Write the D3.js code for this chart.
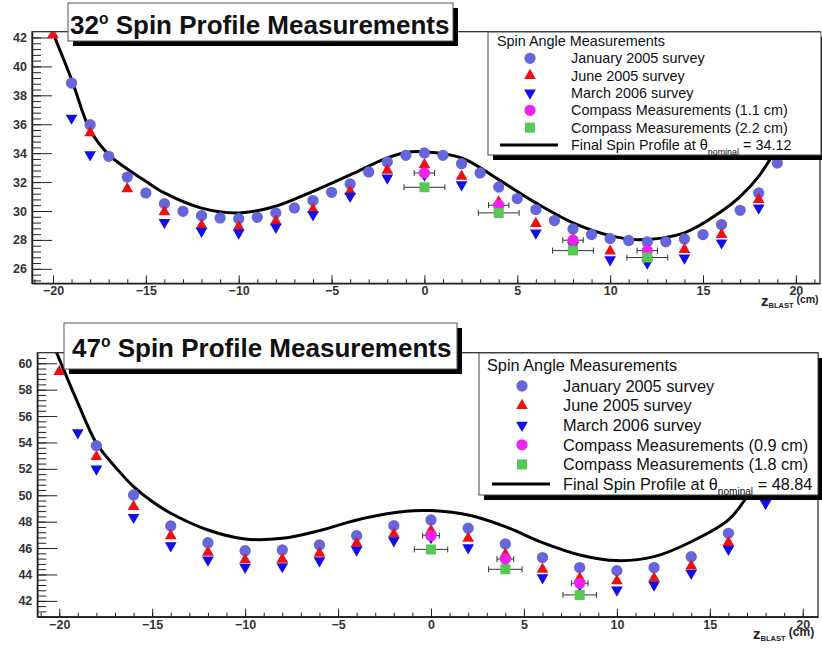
<!DOCTYPE html>
<html>
<head>
<meta charset="utf-8">
<script src="https://cdn.jsdelivr.net/npm/d3@7"></script>
<style>
body { margin: 0; background: #fff; }
svg { display: block; font-family: "Liberation Sans", Arial, Helvetica, sans-serif; }
</style>
</head>
<body>
<div id="chart"></div>
<script>
// ---- data: 32 degree panel ----
const jan32 = [[-19,38.85],[-18,35.97],[-17,33.78],[-16,32.35],[-15,31.25],[-14,30.51],[-13,29.98],[-12,29.68],[-11,29.52],[-10,29.47],[-9,29.56],[-8,29.87],[-7,30.21],[-6,30.72],[-5,31.29],[-4,31.87],[-3,32.7],[-2,33.39],[-1,33.85],[0,34.01],[1,33.85],[2,33.27],[3,32.63],[4,31.66],[5,30.86],[6,30.1],[7,29.34],[8,28.76],[9,28.37],[10,28.09],[11,27.96],[12,27.87],[13,27.87],[14,28.07],[15,28.37],[16,29.06],[17,30.05],[18,31.25],[19,33.32]];
const jun32 = [[-20,42.19],[-18,35.4],[-16,31.53],[-14,29.94],[-12,28.99],[-10,28.9],[-8,29.29],[-6,30.1],[-4,31.36],[-2,32.81],[0,33.2],[2,32.4],[4,30.62],[6,29.13],[8,28.02],[10,27.22],[12,27.0],[14,27.33],[16,28.37],[18,30.79]];
const mar32 = [[-19,36.43],[-18,33.9],[-14,29.22],[-12,28.6],[-10,28.49],[-8,28.88],[-6,29.75],[-4,31.02],[-2,32.29],[0,32.5],[2,31.82],[4,30.3],[6,28.49],[8,27.6],[10,26.64],[12,26.41],[14,26.76],[16,27.8],[18,30.21]];
const compA32 = [[0,32.63],[4,30.4],[8,27.98],[12,27.26]];
const compB32 = [[0,31.64],[4,29.87],[8,27.26],[12,26.78]];
const compErr32 = [0.55, 1.1];
const profile32 = [[-20.05,42.45],[-19,39.1],[-18,35.6],[-17,33.9],[-16,32.9],[-15,32.05],[-14,31.25],[-12,30.2],[-10,29.87],[-8,30.33],[-6,31.36],[-4,32.5],[-2,33.67],[-1,34.05],[0,34.1],[2,33.67],[4,32.17],[6,30.56],[8,29.18],[10,28.3],[11.5,28.02],[14,28.49],[16,29.98],[17,31.0],[18,32.4],[19,34.47],[20,37.6],[21,42.5]];
const yTicks32 = [26,28,30,32,34,36,38,40,42];
const legend32 = ["January 2005 survey","June 2005 survey","March 2006 survey","Compass Measurements (1.1 cm)","Compass Measurements (2.2 cm)"];
const nominal32 = "34.12";

// ---- data: 47 degree panel ----
const jan47 = [[-18,53.76],[-16,50.02],[-14,47.67],[-12,46.41],[-10,45.8],[-8,45.86],[-6,46.24],[-4,46.94],[-2,47.7],[0,48.13],[2,47.5],[4,46.31],[6,45.28],[8,44.52],[10,44.29],[12,44.52],[14,45.35],[16,47.12],[18,50.8]];
const jun47 = [[-20,59.36],[-18,52.92],[-16,49.14],[-14,46.92],[-12,45.68],[-10,45.1],[-8,45.15],[-6,45.6],[-4,46.36],[-2,47.05],[0,47.32],[2,46.74],[4,45.53],[6,44.39],[8,43.71],[10,43.51],[12,43.71],[14,44.64],[16,46.41],[18,50.2]];
const mar47 = [[-19,54.74],[-18,52.0],[-16,48.33],[-14,46.18],[-12,45.1],[-10,44.55],[-8,44.6],[-6,45.05],[-4,45.86],[-2,46.56],[0,46.8],[2,46.03],[4,45.0],[6,43.76],[8,43.2],[10,42.83],[12,43.2],[14,44.09],[16,45.91],[18,49.39]];
const compA47 = [[0,46.94],[4,45.17],[8,43.33]];
const compB47 = [[0,45.9],[4,44.39],[8,42.45]];
const compErr47 = [0.45, 0.9];
const profile47 = [[-20.2,61.0],[-19,57.0],[-18,53.94],[-17,52.17],[-16,50.65],[-15,49.52],[-14,48.64],[-12,47.37],[-10,46.69],[-8,46.74],[-6,47.32],[-4,48.13],[-2,48.68],[-0.5,48.84],[0,48.84],[2,48.5],[4,47.62],[6,46.41],[8,45.48],[10,45.05],[12,45.35],[14,46.48],[16,48.13],[17,49.9],[18,52.3],[19,55.5],[20,59.5],[20.5,61.5]];
const yTicks47 = [42,44,46,48,50,52,54,56,58,60];
const legend47 = ["January 2005 survey","June 2005 survey","March 2006 survey","Compass Measurements (0.9 cm)","Compass Measurements (1.8 cm)"];
const nominal47 = "48.84";

const xTicks = [-20,-15,-10,-5,0,5,10,15,20];
const colors = {jan:"#6565dc", jun:"#ee1010", mar:"#1010e6", compA:"#f020f0", compB:"#55c855"};

const svg = d3.select("#chart").append("svg").attr("width", 822).attr("height", 648);

function drawPanel(c){
    const x = d3.scaleLinear().domain(c.xDomain).range(c.xRange);
    const y = d3.scaleLinear().domain(c.yDomain).range(c.yRange);
    const g = svg.append("g");

    // clip to frame
    g.append("clipPath").attr("id", c.id + "clip")
      .append("rect")
      .attr("x", c.xRange[0]).attr("y", c.yRange[1])
      .attr("width", c.xRange[1] - c.xRange[0]).attr("height", c.yRange[0] - c.yRange[1]);

    // frame
    g.append("rect")
      .attr("x", c.xRange[0]).attr("y", c.yRange[1])
      .attr("width", c.xRange[1] - c.xRange[0]).attr("height", c.yRange[0] - c.yRange[1])
      .attr("fill", "none").attr("stroke", "#222").attr("stroke-width", 1.2);

    // minor ticks
    const yMinor = d3.range(Math.ceil(c.yDomain[0] / 0.4) * 0.4, c.yDomain[1], 0.4);
    g.append("g").attr("transform", `translate(${c.xRange[0]},0)`)
      .call(d3.axisLeft(y).tickValues(yMinor).tickSizeInner(-9).tickSizeOuter(0).tickFormat(""))
      .call(s => s.selectAll("line").attr("stroke", "#222"))
      .call(s => s.select(".domain").remove());
    const xMinor = d3.range(-21, 22, 1).filter(v => v >= c.xDomain[0] && v <= c.xDomain[1]);
    g.append("g").attr("transform", `translate(0,${c.yRange[0]})`)
      .call(d3.axisBottom(x).tickValues(xMinor).tickSizeInner(-4).tickSizeOuter(0).tickFormat(""))
      .call(s => s.selectAll("line").attr("stroke", "#222"))
      .call(s => s.select(".domain").remove());

    // major axes
    g.append("g").attr("transform", `translate(${c.xRange[0]},0)`)
      .call(d3.axisLeft(y).tickValues(c.yTicks).tickSizeInner(-20).tickSizeOuter(0).tickPadding(5))
      .call(s => s.selectAll("line").attr("stroke", "#222"))
      .call(s => s.select(".domain").attr("stroke", "#222").attr("stroke-width", 1.5))
      .call(s => s.selectAll("text").attr("font-size", "12.5px").attr("font-weight", "bold").attr("fill", "#333")
                  .attr("font-family", "Liberation Sans, Arial, sans-serif"));
    g.append("g").attr("transform", `translate(0,${c.yRange[0]})`)
      .call(d3.axisBottom(x).tickValues(xTicks).tickSizeInner(-8).tickSizeOuter(0).tickPadding(3))
      .call(s => s.selectAll("line").attr("stroke", "#222"))
      .call(s => s.select(".domain").attr("stroke", "#222").attr("stroke-width", 1.5))
      .call(s => s.selectAll("text").attr("font-size", "12.5px").attr("font-weight", "bold").attr("fill", "#333")
                  .attr("font-family", "Liberation Sans, Arial, sans-serif"));

    // axis title z_BLAST (cm)
    const t = g.append("text").attr("x", c.zTitle[0]).attr("y", c.zTitle[1])
      .attr("font-weight", "bold").attr("fill", "#222");
    t.append("tspan").attr("font-size", "15px").text("z");
    t.append("tspan").attr("font-size", "7.5px").attr("dy", 2).text("BLAST");
    t.append("tspan").attr("font-size", c.cmSize + "px").attr("dy", -5).text(" (cm)");

    const plot = g.append("g").attr("clip-path", `url(#${c.id}clip)`);

    // final spin profile
    const line = d3.line().x(d => x(d[0])).y(d => y(d[1])).curve(d3.curveCatmullRom);
    plot.append("path").datum(c.profile).attr("d", line)
      .attr("fill", "none").attr("stroke", "#000").attr("stroke-width", 3);

    const sym = (type, size) => d3.symbol().type(type).size(size)();
    const drawSym = (data, type, size, color, rot) => {
        plot.selectAll(null).data(data).join("path")
          .attr("d", sym(type, size))
          .attr("transform", d => `translate(${x(d[0])},${y(d[1])})` + (rot ? " rotate(180)" : ""))
          .attr("fill", color);
    };
    drawSym(c.jan, d3.symbolCircle, 100, colors.jan);
    drawSym(c.jun, d3.symbolTriangle, 60, colors.jun);
    drawSym(c.mar, d3.symbolTriangle, 60, colors.mar, true);

    // horizontal error bars for compass points
    const errBars = (data, e) => {
        const eb = plot.append("g").attr("stroke", "#333").attr("stroke-width", 1);
        eb.selectAll(null).data(data).join("line")
          .attr("x1", d => x(d[0] - e)).attr("x2", d => x(d[0] + e))
          .attr("y1", d => y(d[1])).attr("y2", d => y(d[1]));
        eb.selectAll(null).data(data.flatMap(d => [[d[0] - e, d[1]], [d[0] + e, d[1]]])).join("line")
          .attr("x1", d => x(d[0])).attr("x2", d => x(d[0]))
          .attr("y1", d => y(d[1]) - 3).attr("y2", d => y(d[1]) + 3);
    };
    errBars(c.compA, c.err[0]);
    errBars(c.compB, c.err[1]);
    drawSym(c.compA, d3.symbolCircle, 100, colors.compA);
    drawSym(c.compB, d3.symbolSquare, 100, colors.compB);

    // title box
    const tb = c.titleBox;
    g.append("rect").attr("x", tb[0] + 5).attr("y", tb[1] + 5).attr("width", tb[2]).attr("height", tb[3]).attr("fill", "#000");
    g.append("rect").attr("x", tb[0]).attr("y", tb[1]).attr("width", tb[2]).attr("height", tb[3])
      .attr("fill", "#fff").attr("stroke", "#555").attr("stroke-width", 1);
    const tt = g.append("text").attr("x", c.titlePos[0]).attr("y", c.titlePos[1])
      .attr("font-size", c.titleSize + "px").attr("font-weight", "bold").attr("fill", "#111");
    tt.append("tspan").text(c.angle);
    tt.append("tspan").attr("font-size", (c.titleSize * 0.6) + "px").attr("dy", -10).text("o");
    tt.append("tspan").attr("dy", 10).text(" Spin Profile Measurements");

    // legend
    const lb = c.legBox;
    g.append("rect").attr("x", lb[0] + 5).attr("y", lb[1] + 5).attr("width", lb[2]).attr("height", lb[3]).attr("fill", "#000");
    g.append("rect").attr("x", lb[0]).attr("y", lb[1]).attr("width", lb[2]).attr("height", lb[3])
      .attr("fill", "#fff").attr("stroke", "#444").attr("stroke-width", 1);
    const lg = g.append("g").attr("font-size", c.legSize + "px").attr("fill", "#111");
    lg.append("text").attr("x", c.legHeaderX).attr("y", c.legHeaderY).attr("dy", "0.35em").text("Spin Angle Measurements");
    const rowY = i => c.legRow0 + i * c.legDy;
    const legSyms = [[d3.symbolCircle, 100, colors.jan, false], [d3.symbolTriangle, 60, colors.jun, false],
                     [d3.symbolTriangle, 60, colors.mar, true], [d3.symbolCircle, 100, colors.compA, false],
                     [d3.symbolSquare, 100, colors.compB, false]];
    c.legend.forEach((name, i) => {
        const s = legSyms[i];
        lg.append("path").attr("d", sym(s[0], s[1])).attr("fill", s[2])
          .attr("transform", `translate(${c.legSymX},${rowY(i)})` + (s[3] ? " rotate(180)" : ""));
        lg.append("text").attr("x", c.legTextX).attr("y", rowY(i)).attr("dy", "0.35em").text(name);
    });
    lg.append("line").attr("x1", c.legLine[0]).attr("x2", c.legLine[1]).attr("y1", rowY(5)).attr("y2", rowY(5))
      .attr("stroke", "#000").attr("stroke-width", 3);
    const ft = lg.append("text").attr("x", c.legTextX).attr("y", rowY(5)).attr("dy", "0.35em");
    ft.append("tspan").text("Final Spin Profile at \u03b8");
    ft.append("tspan").attr("font-size", (c.legSize * 0.62) + "px").attr("dy", 5).text("nominal");
    ft.append("tspan").attr("dy", -5).text(" = " + c.nominal);
}

drawPanel({
    id: "p32", angle: "32",
    xDomain: [-21.13, 21.3], xRange: [32, 820],
    yDomain: [25, 42.4], yRange: [283.3, 31.7], yTicks: yTicks32,
    jan: jan32, jun: jun32, mar: mar32, compA: compA32, compB: compB32, err: compErr32, profile: profile32,
    zTitle: [761, 306], cmSize: 10.5,
    titleBox: [68, 3, 385, 38], titlePos: [70, 33.5], titleSize: 26,
    legBox: [488, 32, 333, 123], legHeaderX: 497, legHeaderY: 40.5,
    legRow0: 58.3, legDy: 17.35, legSymX: 530, legTextX: 571, legLine: [500, 558],
    legSize: 14.4, legend: legend32, nominal: nominal32
});

drawPanel({
    id: "p47", angle: "47",
    xDomain: [-21.18, 20.82], xRange: [37.3, 818],
    yDomain: [40.8, 60.8], yRange: [616.7, 352.7], yTicks: yTicks47,
    jan: jan47, jun: jun47, mar: mar47, compA: compA47, compB: compB47, err: compErr47, profile: profile47,
    zTitle: [753, 639], cmSize: 12,
    titleBox: [64, 323, 393, 46], titlePos: [72, 357], titleSize: 26,
    legBox: [479, 353, 339, 142], legHeaderX: 487, legHeaderY: 365,
    legRow0: 386, legDy: 19.6, legSymX: 522, legTextX: 563, legLine: [492, 550],
    legSize: 16.3, legend: legend47, nominal: nominal47
});
</script>
</body>
</html>
